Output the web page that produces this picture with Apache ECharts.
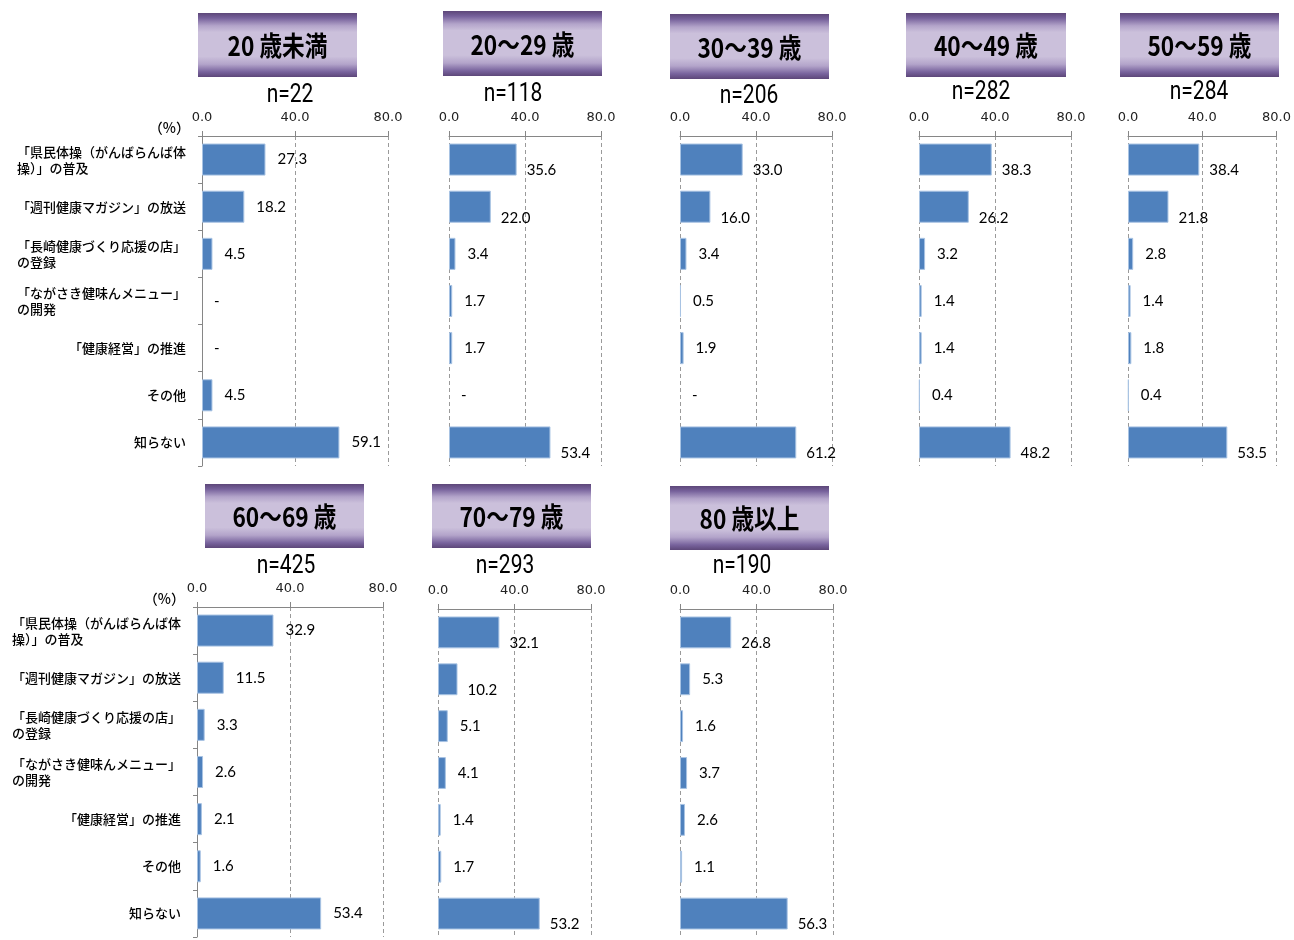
<!DOCTYPE html>
<html>
<head>
<meta charset="utf-8">
<script src="https://cdn.jsdelivr.net/npm/echarts@6/dist/echarts.min.js"></script>
<style>
  html, body { margin: 0; padding: 0; background: #fff; }
  #chart { width: 1294px; height: 940px; }
</style>
</head>
<body>
<div id="chart"></div>
<script>
// Survey items (top to bottom)
const categories = [
  '「県民体操（がんばらんば体\n操）」の普及',
  '「週刊健康マガジン」の放送',
  '「長崎健康づくり応援の店」\nの登録',
  '「ながさき健味んメニュー」\nの開発',
  '「健康経営」の推進',
  'その他',
  '知らない'
];

// Age groups and sample sizes
const ageGroups = ['20 歳未満', '20～29 歳', '30～39 歳', '40～49 歳', '50～59 歳', '60～69 歳', '70～79 歳', '80 歳以上'];
const sampleSizes = [22, 118, 206, 282, 284, 425, 293, 190];

// Percentages per age group (null = no response, shown as "-")
const under20 = [27.3, 18.2, 4.5, null, null, 4.5, 59.1];
const age20s  = [35.6, 22.0, 3.4, 1.7, 1.7, null, 53.4];
const age30s  = [33.0, 16.0, 3.4, 0.5, 1.9, null, 61.2];
const age40s  = [38.3, 26.2, 3.2, 1.4, 1.4, 0.4, 48.2];
const age50s  = [38.4, 21.8, 2.8, 1.4, 1.8, 0.4, 53.5];
const age60s  = [32.9, 11.5, 3.3, 2.6, 2.1, 1.6, 53.4];
const age70s  = [32.1, 10.2, 5.1, 4.1, 1.4, 1.7, 53.2];
const age80up = [26.8, 5.3, 1.6, 3.7, 2.6, 1.1, 56.3];
const groupValues = [under20, age20s, age30s, age40s, age50s, age60s, age70s, age80up];

// Value axis
const axisMin = 0;
const axisMax = 80;
const axisStep = 40;
const unitLabel = '（%）';

// Panel layout: plot box [left, top, width, height], header box [x, y, w, h], sample-size label centre
const panels = [
  { plot: [202, 136, 186, 330], header: [198, 13, 159, 64], n: [290, 96], categoryAxis: true,  lowerLabels: false },
  { plot: [449, 136, 152, 330], header: [443, 11, 159, 65], n: [513, 95], categoryAxis: false, lowerLabels: true },
  { plot: [680, 136, 152, 330], header: [670, 14, 159, 65], n: [749, 97], categoryAxis: false, lowerLabels: true },
  { plot: [919, 136, 152, 330], header: [906, 13, 160, 64], n: [981, 93], categoryAxis: false, lowerLabels: true },
  { plot: [1128, 136, 152, 330], header: [1120, 13, 159, 64], n: [1199, 93], categoryAxis: false, lowerLabels: true },
  { plot: [197, 607, 186, 330], header: [205, 484, 159, 64], n: [286, 567], categoryAxis: true,  lowerLabels: false },
  { plot: [438, 609, 153, 328], header: [432, 484, 159, 64], n: [505, 567], categoryAxis: false, lowerLabels: true },
  { plot: [680, 609, 153, 328], header: [670, 486, 159, 64], n: [742, 567], categoryAxis: false, lowerLabels: true }
];

const JP_FONT = '"Noto Sans CJK JP", "Noto Sans CJK SC", sans-serif';
const AXIS_GREY = '#868686';
const BAR_BLUE = '#4F81BD';

const headerFill = new echarts.graphic.LinearGradient(0, 0, 0, 1, [
  { offset: 0.00, color: '#5D4779' },
  { offset: 0.08, color: '#76619B' },
  { offset: 0.20, color: '#B3A4CA' },
  { offset: 0.30, color: '#CBC0DB' },
  { offset: 0.68, color: '#CBC0DB' },
  { offset: 0.80, color: '#B3A4CA' },
  { offset: 0.92, color: '#78639D' },
  { offset: 1.00, color: '#5D4779' }
]);

const grids = [], xAxes = [], yAxes = [], series = [], graphics = [];

panels.forEach((p, i) => {
  const [left, top, width, height] = p.plot;
  grids.push({ left, top, width, height });

  xAxes.push({
    type: 'value',
    gridIndex: i,
    position: 'top',
    min: axisMin,
    max: axisMax,
    interval: axisStep,
    axisLine: { show: true, lineStyle: { color: AXIS_GREY, width: 1 } },
    axisTick: { show: true, length: 5, lineStyle: { color: AXIS_GREY } },
    axisLabel: {
      margin: 12,
      color: '#222',
      fontFamily: '"DejaVu Sans", sans-serif',
      fontSize: 13,
      formatter: v => v.toFixed(1)
    },
    splitLine: { show: true, lineStyle: { color: '#9A9A9A', type: [4, 3], width: 1 } }
  });

  yAxes.push({
    type: 'category',
    gridIndex: i,
    inverse: true,
    data: categories,
    axisLine: { show: p.categoryAxis, lineStyle: { color: AXIS_GREY, width: 1 } },
    axisTick: { show: p.categoryAxis, length: 4, lineStyle: { color: AXIS_GREY } },
    axisLabel: {
      show: p.categoryAxis,
      margin: 16,
      formatter: v => v.split('\n').map(line => '{l|' + line + '}').join('\n'),
      rich: {
        l: { align: 'left', fontFamily: JP_FONT, fontSize: 13, fontWeight: 500, lineHeight: 16, color: '#000' }
      }
    },
    splitLine: { show: false }
  });

  const values = groupValues[i];
  series.push({
    type: 'bar',
    xAxisIndex: i,
    yAxisIndex: i,
    barCategoryGap: '32%',
    itemStyle: { color: BAR_BLUE, borderColor: '#A8C3E3', borderWidth: 1 },
    data: values.map(v => {
      if (v === null) {
        return { value: 0, itemStyle: { borderWidth: 0 } };
      }
      const item = { value: v };
      if (p.lowerLabels && v >= 10) {
        item.label = { offset: [0, 11], distance: 10 };
      }
      return item;
    }),
    label: {
      show: true,
      position: 'right',
      distance: 12,
      color: '#000',
      fontFamily: 'Lato, "Open Sans", sans-serif',
      fontSize: 15,
      formatter: params => (values[params.dataIndex] === null ? '-' : values[params.dataIndex].toFixed(1))
    },
    silent: true
  });

  // Age-group header
  const [hx, hy, hw, hh] = p.header;
  graphics.push({
    type: 'rect',
    shape: { x: hx, y: hy, width: hw, height: hh },
    style: { fill: headerFill }
  });
  graphics.push({
    type: 'text',
    x: hx + hw / 2,
    y: hy + hh / 2 + 1,
    scaleX: 0.84,
    style: {
      text: ageGroups[i],
      x: 0, y: 0,
      align: 'center',
      verticalAlign: 'middle',
      font: 'bold 27px ' + JP_FONT,
      fill: '#000'
    }
  });

  // Sample size
  graphics.push({
    type: 'text',
    x: p.n[0],
    y: p.n[1],
    scaleX: 0.84,
    style: {
      text: 'n=' + sampleSizes[i],
      x: 0, y: 0,
      align: 'center',
      verticalAlign: 'middle',
      font: '25px Roboto, "Liberation Sans", sans-serif',
      fill: '#000'
    }
  });

  // Unit label above the category axis
  if (p.categoryAxis) {
    graphics.push({
      type: 'text',
      x: left - 12,
      y: top - 8,
      style: {
        text: unitLabel,
        align: 'right',
        verticalAlign: 'middle',
        font: '500 14px ' + JP_FONT,
        fill: '#000'
      }
    });
  }
});

const chart = echarts.init(document.getElementById('chart'), null, { renderer: 'canvas' });
chart.setOption({
  animation: false,
  backgroundColor: '#fff',
  grid: grids,
  xAxis: xAxes,
  yAxis: yAxes,
  series: series,
  graphic: { elements: graphics }
});
</script>
</body>
</html>
